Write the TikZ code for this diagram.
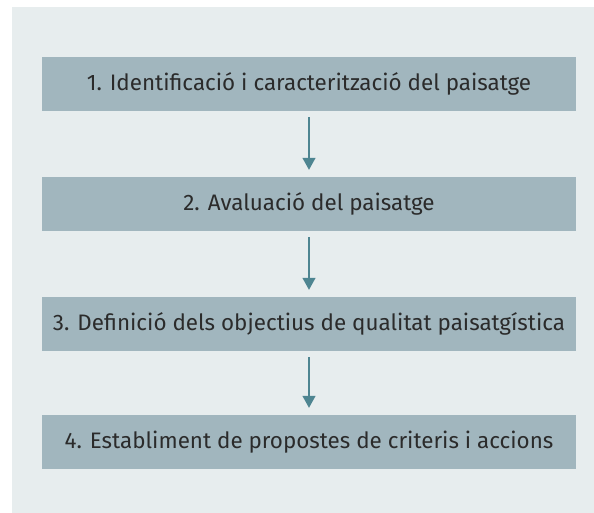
\documentclass[tikz,border=0pt]{standalone}
\usepackage{fontspec}
\setmainfont{Fira Sans}
\usetikzlibrary{arrows.meta, positioning}
\definecolor{panel}{HTML}{E7EDEE}
\definecolor{stagefill}{HTML}{A1B6BE}
\definecolor{arrowteal}{HTML}{4E8591}
\definecolor{ink}{HTML}{2B2B2B}
\tikzstyle{stage}=[fill=stagefill,minimum width=534bp,minimum height=54bp,inner sep=0pt,text=ink,font=\fontsize{22.5}{26}\selectfont]
\tikzstyle{mainedge}=[-{Triangle[length=12bp,width=13bp]},line width=1.3bp,draw=arrowteal,fill=arrowteal,shorten <=6bp,shorten >=7bp]

\begin{document}
\begin{tikzpicture}[x=1bp,y=1bp]
\useasboundingbox (0,0) rectangle (594,513);
% background panel
\fill[panel] (12,0) rectangle (594,506);

% stages
\node[stage] (s1) at (309,429) {1. Identificació i caracterització del paisatge};
\node[stage] (s2) at (309,309) {2. Avaluació del paisatge};
\node[stage] (s3) at (309,189) {3. Definició dels objectius de qualitat paisatgística};
\node[stage] (s4) at (309,71)  {4. Establiment de propostes de criteris i accions};

% arrows
\draw[mainedge] (s1) -- (s2);
\draw[mainedge] (s2) -- (s3);
\draw[mainedge] (s3) -- (s4);
\end{tikzpicture}
\end{document}
